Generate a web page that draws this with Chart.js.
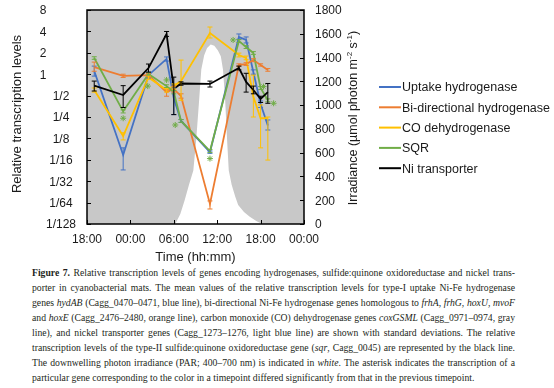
<!DOCTYPE html>
<html>
<head>
<meta charset="utf-8">
<script src="https://cdn.jsdelivr.net/npm/chart.js@4.4.1/dist/chart.umd.min.js"></script>
<style>
  body { margin: 0; background: #fff; width: 554px; height: 388px; overflow: hidden; }
  #wrap { position: relative; width: 554px; height: 265px; }
  #caption {
    position: absolute; left: 32px; top: 265px; width: 483px;
    font-family: "Liberation Serif", serif; font-size: 9.7px; line-height: 15px; color: #231f20;
  }
  #caption div { text-align: justify; text-align-last: justify; }
  #caption div.last { text-align-last: left; }
</style>
</head>
<body>
<div id="wrap"><canvas id="chart" width="554" height="265"></canvas></div>
<div id="caption">
  <div><b>Figure 7.</b> Relative transcription levels of genes encoding hydrogenases, sulfide:quinone oxidoreductase and nickel trans-</div>
  <div>porter in cyanobacterial mats. The mean values of the relative transcription levels for type-I uptake Ni-Fe hydrogenase</div>
  <div>genes <i>hydAB</i> (Cagg_0470–0471, blue line), bi-directional Ni-Fe hydrogenase genes homologous to <i>frhA</i>, <i>frhG</i>, <i>hoxU</i>, <i>mvoF</i></div>
  <div>and <i>hoxE</i> (Cagg_2476–2480, orange line), carbon monoxide (CO) dehydrogenase genes <i>coxGSML</i> (Cagg_0971–0974, gray</div>
  <div>line), and nickel transporter genes (Cagg_1273–1276, light blue line) are shown with standard deviations. The relative</div>
  <div>transcription levels of the type-II sulfide:quinone oxidoreductase gene (<i>sqr</i>, Cagg_0045) are represented by the black line.</div>
  <div>The downwelling photon irradiance (PAR; 400–700 nm) is indicated in <i>white</i>. The asterisk indicates the transcription of a</div>
  <div class="last">particular gene corresponding to the color in a timepoint differed significantly from that in the previous timepoint.</div>
</div>
<script>
// hours after 18:00 on day 1
const sampleHours = [1, 5, 8.5, 11, 12, 13, 17, 21, 22, 23, 24, 25];

const uptake   = [1.11, 0.073, 0.97, 1.64, 0.46, 0.22, 0.080, 3.33, 3.03, 1.07, 0.38, 0.19];
const uptakeLo = [0.94, 0.045, 0.88, 1.53, 0.27, 0.21, 0.077, 3.10, 2.75, 1.00, 0.34, 0.164];
const uptakeHi = [1.30, 0.092, 1.07, 1.75, 0.64, 0.23, 0.083, 3.68, 3.34, 1.15, 0.42, 0.227];

const bidir   = [1.26, 0.95, 0.97, 0.56, 0.62, 0.49, 0.015, 1.35, 1.39, 1.58, 1.35, 1.15];
const bidirLo = [1.10, 0.90, 0.92, 0.49, 0.56, 0.46, 0.0127, 1.30, 1.33, 1.50, 1.30, 1.10];
const bidirHi = [1.48, 1.00, 1.02, 0.60, 0.68, 0.53, 0.0165, 1.40, 1.45, 1.65, 1.40, 1.20];

const coDh   = [0.60, 0.135, 0.90, 0.60, 0.68, 0.80, 3.80, 1.86, 1.69, 0.48, 0.24, 0.24];
const coDhLo = [0.56, 0.119, 0.85, 0.56, 0.62, 0.43, 3.23, 1.75, 1.60, 0.25, 0.092, 0.062];
const coDhHi = [0.64, 0.150, 0.95, 0.64, 0.73, 1.58, 4.61, 1.98, 1.80, 0.97, 0.37, 0.25];

const sqr   = [1.69, 0.30, 1.01, 0.68, 0.56, 0.22, 0.083, 2.93, 2.41, 1.99, 0.64, 0.43];
const sqrLo = [1.62, 0.285, 0.97, 0.65, 0.53, 0.21, 0.079, 2.80, 2.30, 1.90, 0.61, 0.41];
const sqrHi = [1.76, 0.315, 1.05, 0.71, 0.59, 0.23, 0.087, 3.06, 2.52, 2.08, 0.67, 0.45];

const niTr   = [0.69, 0.51, 1.22, 3.68, 0.62, 0.74, 0.73, 1.22, 0.78, 0.60, 0.45, 0.56];
const niTrLo = [0.58, 0.34, 1.07, 3.40, 0.27, 0.70, 0.66, 1.15, 0.56, 0.53, 0.40, 0.39];
const niTrHi = [0.80, 0.69, 1.39, 3.99, 0.91, 0.78, 0.80, 1.30, 1.03, 0.68, 0.49, 0.74];

// green asterisks (significant change)
const starHours  = [5, 8.4, 11, 12.2, 17, 20.2, 24.4, 25.8];
const starValues = [0.24, 0.68, 0.83, 0.193, 0.065, 3.03, 0.67, 0.39];

// irradiance (PAR), right axis
const irrHours  = [12.2, 12.9, 13.5, 14.1, 14.7, 15.1, 15.5, 15.8, 16.2, 16.6, 17.1, 17.6, 18.1, 18.5, 18.8, 19.1, 19.4, 19.6, 20.0, 20.5, 20.9, 21.7, 22.5, 23.4, 24.2];
const irrValues = [0, 84, 200, 330, 450, 710, 1040, 1300, 1420, 1480, 1510, 1500, 1460, 1410, 1300, 1040, 670, 450, 330, 230, 160, 100, 60, 25, 0];

const xTickHours  = [0, 6, 12, 18, 24, 30];
const xTickLabels = ["18:00", "00:00", "06:00", "12:00", "18:00", "00:00"];
const yTickValues = [1/128, 1/64, 1/32, 1/16, 1/8, 1/4, 1/2, 1, 2, 4, 8];
const yTickLabels = ["1/128", "1/64", "1/32", "1/16", "1/8", "1/4", "1/2", "1", "2", "4", "8"];
const y2TickValues = [0, 200, 400, 600, 800, 1000, 1200, 1400, 1600, 1800];

const seriesNames  = ["Uptake hydrogenase", "Bi-directional hydrogenase", "CO dehydrogenase", "SQR", "Ni transporter"];
const seriesColors = ["#4472c4", "#ed7d31", "#ffc000", "#70ad47", "#000000"];

const FONT = '"Liberation Sans", Arial, sans-serif';

function pts(xs, ys) {
  return xs.map((x, i) => ({ x, y: ys[i] }));
}

function series(i, vals, lo, hi) {
  return {
    label: seriesNames[i],
    data: pts(sampleHours, vals),
    lo, hi,
    borderColor: seriesColors[i],
    backgroundColor: seriesColors[i],
    borderWidth: 1.8,
    pointRadius: 0,
    tension: 0,
    yAxisID: "y",
    order: 5 - i,
  };
}

// plot background, error bars, frame, axes text and legend
const decor = {
  id: "decor",
  beforeDatasetsDraw(chart) {
    const { ctx, chartArea: a } = chart;
    ctx.save();
    ctx.fillStyle = "#c8c8c8";
    ctx.fillRect(a.left, a.top, a.right - a.left, a.bottom - a.top);
    ctx.restore();
  },
  afterDatasetsDraw(chart) {
    const { ctx, scales } = chart;
    ctx.save();
    chart.data.datasets.forEach((ds) => {
      if (!ds.lo) return;
      ctx.strokeStyle = ds.borderColor;
      ctx.lineWidth = 1;
      ds.data.forEach((p, j) => {
        const x = scales.x.getPixelForValue(p.x);
        const yt = scales.y.getPixelForValue(ds.hi[j]);
        const yb = scales.y.getPixelForValue(ds.lo[j]);
        ctx.beginPath();
        ctx.moveTo(x, yt); ctx.lineTo(x, yb);
        ctx.moveTo(x - 2.5, yt); ctx.lineTo(x + 2.5, yt);
        ctx.moveTo(x - 2.5, yb); ctx.lineTo(x + 2.5, yb);
        ctx.stroke();
      });
    });
    ctx.restore();
  },
  afterDraw(chart) {
    const { ctx, chartArea: a, scales } = chart;
    ctx.save();

    // frame + inward ticks
    ctx.strokeStyle = "#000";
    ctx.lineWidth = 1.5;
    ctx.strokeRect(a.left, a.top, a.right - a.left, a.bottom - a.top);
    ctx.lineWidth = 1;
    ctx.beginPath();
    yTickValues.forEach((v) => {
      const y = Math.round(scales.y.getPixelForValue(v)) + 0.5;
      ctx.moveTo(a.left, y); ctx.lineTo(a.left + 4, y);
    });
    y2TickValues.forEach((v) => {
      const y = Math.round(scales.y2.getPixelForValue(v)) + 0.5;
      ctx.moveTo(a.right - 4, y); ctx.lineTo(a.right, y);
    });
    xTickHours.forEach((h) => {
      const x = Math.round(scales.x.getPixelForValue(h)) + 0.5;
      ctx.moveTo(x, a.bottom); ctx.lineTo(x, a.bottom - 4);
    });
    ctx.stroke();

    // tick labels
    ctx.fillStyle = "#1a1a1a";
    ctx.font = "12px " + FONT;
    ctx.textBaseline = "middle";
    ctx.textAlign = "center";
    yTickLabels.forEach((t, i) => {
      const y = scales.y.getPixelForValue(yTickValues[i]);
      ctx.fillText(t, t.includes("/") ? 61 : 43, y + 1);
    });
    ctx.textAlign = "left";
    y2TickValues.forEach((v) => {
      ctx.fillText(String(v), a.right + 11, scales.y2.getPixelForValue(v) + 1);
    });
    ctx.textAlign = "center";
    xTickLabels.forEach((t, i) => {
      ctx.fillText(t, scales.x.getPixelForValue(xTickHours[i]), a.bottom + 16);
    });

    // axis titles
    ctx.font = "13px " + FONT;
    ctx.fillText("Time (hh:mm)", (a.left + a.right) / 2, a.bottom + 33);
    ctx.save();
    ctx.translate(17, 114);
    ctx.rotate(-Math.PI / 2);
    ctx.fillText("Relative transcription levels", 0, 0);
    ctx.restore();

    // right title with superscripts
    const parts = [["Irradiance (µmol photon m", 0], ["-2", 1], [" s", 0], ["-1", 1], [")", 0]];
    const big = "12.5px " + FONT, small = "8px " + FONT;
    let total = 0;
    parts.forEach(([t, s]) => { ctx.font = s ? small : big; total += ctx.measureText(t).width; });
    ctx.save();
    ctx.translate(354, 118);
    ctx.rotate(-Math.PI / 2);
    ctx.textAlign = "left";
    let px = -total / 2;
    parts.forEach(([t, s]) => {
      ctx.font = s ? small : big;
      ctx.fillText(t, px, s ? -4 : 0);
      px += ctx.measureText(t).width;
    });
    ctx.restore();

    // legend
    ctx.font = "12.5px " + FONT;
    ctx.textAlign = "left";
    seriesNames.forEach((n, i) => {
      const y = 87 + i * 20.3;
      ctx.strokeStyle = seriesColors[i];
      ctx.lineWidth = 2;
      ctx.beginPath();
      ctx.moveTo(379, y); ctx.lineTo(401, y);
      ctx.stroke();
      ctx.fillText(n, 402, y + 1);
    });
    ctx.restore();
  },
};

new Chart(document.getElementById("chart"), {
  type: "line",
  data: {
    datasets: [
      {
        label: "Irradiance",
        data: pts(irrHours, irrValues),
        yAxisID: "y2",
        borderWidth: 0,
        borderColor: "#ffffff",
        backgroundColor: "#ffffff",
        fill: "origin",
        pointRadius: 0,
        tension: 0,
        order: 10,
      },
      series(0, uptake, uptakeLo, uptakeHi),
      series(1, bidir, bidirLo, bidirHi),
      series(2, coDh, coDhLo, coDhHi),
      series(3, sqr, sqrLo, sqrHi),
      series(4, niTr, niTrLo, niTrHi),
      {
        label: "asterisk",
        data: pts(starHours, starValues),
        yAxisID: "y",
        showLine: false,
        pointStyle: "star",
        pointRadius: 3,
        pointBorderWidth: 1,
        borderColor: "#70ad47",
        backgroundColor: "#70ad47",
        order: 0,
      },
    ],
  },
  options: {
    responsive: false,
    animation: false,
    layout: { padding: { left: 87, top: 10, right: 250, bottom: 41 } },
    plugins: { legend: { display: false }, tooltip: { enabled: false } },
    scales: {
      x: { type: "linear", min: 0, max: 30, display: false },
      y: { type: "logarithmic", min: 1 / 128, max: 8, display: false },
      y2: { type: "linear", min: 0, max: 1800, display: false },
    },
  },
  plugins: [decor],
});
</script>
</body>
</html>
